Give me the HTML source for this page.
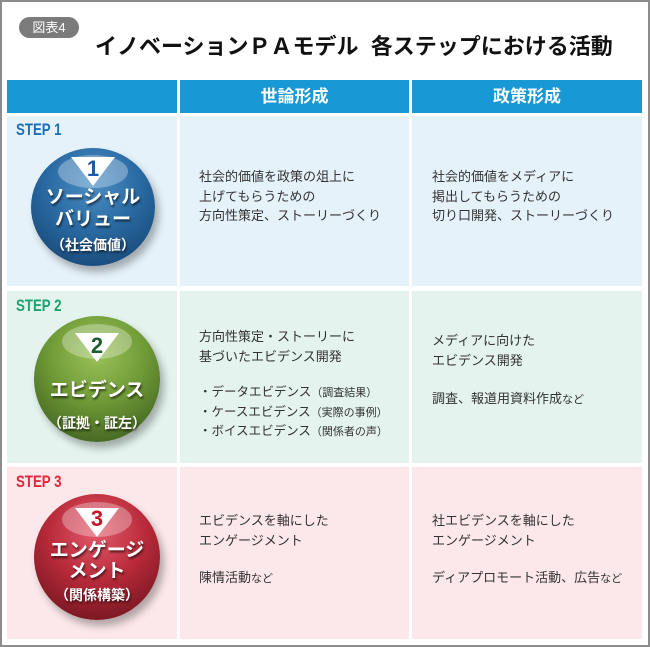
<!DOCTYPE html>
<html><head><meta charset="utf-8"><style>
body{margin:0;width:650px;height:647px;background:#fff;position:relative;overflow:hidden;font-family:"Liberation Sans","Noto Sans CJK JP",sans-serif;}
.frame{position:absolute;left:0;top:0;width:646px;height:643px;border:2px solid #8c8c8c;}
.abs{position:absolute;}
.badge{left:19px;top:17px;width:60px;height:21px;border-radius:11px;background:#7b7b7b;color:#fff;font-size:13px;line-height:21px;text-align:center;}
.title{left:95px;top:29px;font-size:22px;font-weight:bold;color:#111;white-space:nowrap;}
.hd{top:80px;height:33px;background:#1898d4;color:#fff;font-weight:bold;font-size:17px;line-height:33px;text-align:center;}
.cell{position:absolute;}
.txt{position:absolute;font-size:13px;line-height:19.5px;color:#333;white-space:nowrap;}
.step{position:absolute;left:16px;font-size:17px;font-weight:bold;transform:scaleX(0.78);transform-origin:left;}
.sph{position:absolute;border-radius:50%;box-shadow:4px 6px 8px rgba(0,0,0,0.3);}
.sph .hl{position:absolute;left:22%;top:6%;width:56%;height:28%;border-radius:50%;background:rgba(255,255,255,0.3);}
.tri{position:absolute;left:50%;margin-left:-22px;width:0;height:0;border-left:22px solid transparent;border-right:22px solid transparent;border-top:29px solid #fff;}
.num{position:absolute;width:100%;text-align:center;font-weight:bold;font-size:22px;line-height:26px;}
.lbl{position:absolute;width:100%;text-align:center;color:#fff;font-weight:bold;text-shadow:1px 2px 2px rgba(0,0,0,0.6);}
</style></head><body>
<div class="frame"></div>
<div class="abs badge">図表4</div>
<div class="abs title">イノベーションＰＡモデル&nbsp;&nbsp;各ステップにおける活動</div>
<div class="abs hd" style="left:7px;width:170px"></div>
<div class="abs hd" style="left:180px;width:229px">世論形成</div>
<div class="abs hd" style="left:412px;width:230px">政策形成</div>

<div class="cell" style="left:7px;top:116px;width:170px;height:170px;background:#e6f2f9"></div>
<div class="cell" style="left:180px;top:116px;width:229px;height:170px;background:#e6f2f9"></div>
<div class="cell" style="left:412px;top:116px;width:230px;height:170px;background:#e6f2f9"></div>
<div class="cell" style="left:7px;top:291px;width:170px;height:172px;background:#e4f3ee"></div>
<div class="cell" style="left:180px;top:291px;width:229px;height:172px;background:#e4f3ee"></div>
<div class="cell" style="left:412px;top:291px;width:230px;height:172px;background:#e4f3ee"></div>
<div class="cell" style="left:7px;top:467px;width:170px;height:172px;background:#fce8ea"></div>
<div class="cell" style="left:180px;top:467px;width:229px;height:172px;background:#fce8ea"></div>
<div class="cell" style="left:412px;top:467px;width:230px;height:172px;background:#fce8ea"></div>

<div class="step" style="top:120px;color:#1b6fb8">STEP 1</div>
<div class="step" style="top:296px;color:#1aa36e">STEP 2</div>
<div class="step" style="top:472px;color:#e3263a">STEP 3</div>

<div class="sph" style="left:31px;top:148px;width:124px;height:118px;background:radial-gradient(circle at 50% 30%,#4d8fc4 0%,#2a6aa3 45%,#123e68 100%)">
<div class="hl"></div><div class="tri" style="top:9px"></div>
<div class="num" style="top:8px;color:#1b5d9c">1</div>
<div class="lbl" style="top:39px;font-size:19px;line-height:22px">ソーシャル<br>バリュー</div>
<div class="lbl" style="top:87px;font-size:14px">（社会価値）</div></div>

<div class="sph" style="left:34px;top:316px;width:126px;height:126px;background:radial-gradient(circle at 50% 30%,#9cc25a 0%,#6e9a36 45%,#34511a 100%)">
<div class="hl"></div><div class="tri" style="top:17px"></div>
<div class="num" style="top:17px;color:#1d5a2c">2</div>
<div class="lbl" style="top:59px;font-size:19px">エビデンス</div>
<div class="lbl" style="top:97px;font-size:14px">（証拠・証左）</div></div>

<div class="sph" style="left:34px;top:494px;width:126px;height:126px;background:radial-gradient(circle at 50% 30%,#e25a6a 0%,#b82a3a 45%,#5e1018 100%)">
<div class="hl"></div><div class="tri" style="top:14px"></div>
<div class="num" style="top:12px;color:#c4152c">3</div>
<div class="lbl" style="top:46px;font-size:19px;line-height:21px">エンゲージ<br>メント</div>
<div class="lbl" style="top:91px;font-size:14px">（関係構築）</div></div>

<div class="txt" style="left:199px;top:167px">社会的価値を政策の俎上に<br>上げてもらうための<br>方向性策定、ストーリーづくり</div>
<div class="txt" style="left:432px;top:167px">社会的価値をメディアに<br>掲出してもらうための<br>切り口開発、ストーリーづくり</div>
<div class="txt" style="left:199px;top:327px">方向性策定・ストーリーに<br>基づいたエビデンス開発</div>
<div class="txt" style="left:199px;top:383px;font-size:12.5px;line-height:18.5px">・データエビデンス<span style="font-size:11px">（調査結果）</span><br>・ケースエビデンス<span style="font-size:11px">（実際の事例）</span><br>・ボイスエビデンス<span style="font-size:11px">（関係者の声）</span></div>
<div class="txt" style="left:432px;top:331px">メディアに向けた<br>エビデンス開発</div>
<div class="txt" style="left:432px;top:389px">調査、報道用資料作成<span style="font-size:11px">など</span></div>
<div class="txt" style="left:199px;top:511px">エビデンスを軸にした<br>エンゲージメント</div>
<div class="txt" style="left:199px;top:568px">陳情活動<span style="font-size:11px">など</span></div>
<div class="txt" style="left:432px;top:511px">社エビデンスを軸にした<br>エンゲージメント</div>
<div class="txt" style="left:432px;top:568px">ディアプロモート活動、広告<span style="font-size:11px">など</span></div>
</body></html>
